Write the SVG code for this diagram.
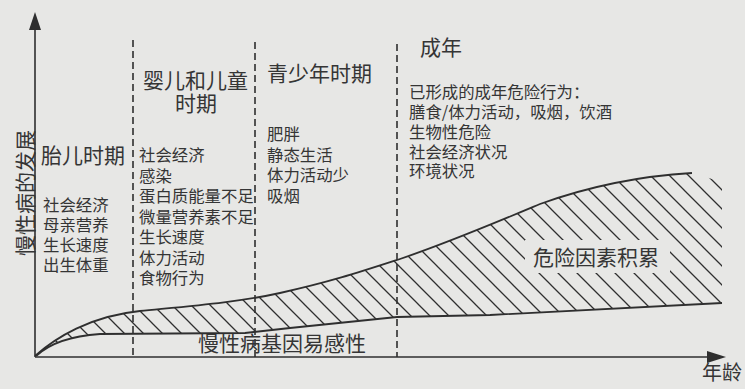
<svg xmlns="http://www.w3.org/2000/svg" width="745" height="389" viewBox="0 0 745 389">
<style>
text{font-family:"Noto Sans CJK SC","Noto Sans",sans-serif;fill:#353535}
.big{font-size:21px}
.sm{font-size:16.4px}
.ax{stroke:#2f2f2f;stroke-width:1.6;fill:none}
.cv{stroke:#2f2f2f;stroke-width:1.8;fill:none}
.dash{stroke:#2f2f2f;stroke-width:1.6;stroke-dasharray:7 4;fill:none}
</style>
<defs>
<pattern id="hatch" patternUnits="userSpaceOnUse" width="19" height="19">
<path d="M0,0 L19,19 M-3,16 L3,22 M16,-3 L22,3" stroke="#2f2f2f" stroke-width="1.3" fill="none"/>
</pattern>
<mask id="hm">
<rect width="745" height="389" fill="black"/>
<path d="M35,356 C55,338 90,316 140,311 C190,306 240,302 280,293 C330,282 360,272 400,259 C450,242 490,225 540,204 C590,186 640,176 692,173 L722,182 L722,303 L490,315 L397,317 L290,328 L245,333 L100,334 C70,336 50,343 36,356 Z" fill="white"/>
<rect x="525" y="240" width="145" height="33" fill="black"/>
</mask>
</defs>
<rect width="745" height="389" fill="#e7e7e5"/>

<g id="hatching">
<rect x="30" y="160" width="700" height="200" fill="url(#hatch)" mask="url(#hm)"/>
</g>

<g id="curves">
<path class="cv" d="M35,356 C55,338 90,316 140,311 C190,306 240,302 280,293 C330,282 360,272 400,259 C450,242 490,225 540,204 C590,186 640,176 692,173"/>
<path class="cv" d="M36,356 C50,343 70,336 100,334 L245,333 L290,328 L397,317 L490,315 L722,303"/>
</g>

<g id="axes">
<line class="ax" x1="35" y1="357" x2="35" y2="28"/>
<polygon points="35,12 29,30 41,30" fill="#2f2f2f"/>
<line class="ax" x1="35" y1="357" x2="710" y2="357"/>
<polygon points="726,357 707,351 707,363" fill="#2f2f2f"/>
<text x="702" y="380" style="font-size:20px">年龄</text>
<text class="big" transform="translate(25,193) rotate(-90)" x="0" y="8" text-anchor="middle">慢性病的发展</text>
</g>

<g id="dividers">
<line class="dash" x1="133" y1="40" x2="133" y2="357"/>
<line class="dash" x1="255" y1="42" x2="255" y2="357"/>
<line class="dash" x1="397" y1="44" x2="397" y2="357"/>
</g>

<g id="fetal">
<text class="big" x="41" y="163">胎儿时期</text>
<text class="sm" x="43" y="211">社会经济</text>
<text class="sm" x="43" y="231">母亲营养</text>
<text class="sm" x="43" y="251">生长速度</text>
<text class="sm" x="43" y="271">出生体重</text>
</g>

<g id="childhood">
<text class="big" x="143" y="88">婴儿和儿童</text>
<text class="big" x="196" y="111" text-anchor="middle">时期</text>
<text class="sm" x="139" y="161">社会经济</text>
<text class="sm" x="139" y="181.5">感染</text>
<text class="sm" x="139" y="202">蛋白质能量不足</text>
<text class="sm" x="139" y="222.5">微量营养素不足</text>
<text class="sm" x="139" y="243">生长速度</text>
<text class="sm" x="139" y="263.5">体力活动</text>
<text class="sm" x="139" y="284">食物行为</text>
</g>

<g id="adolescence">
<text class="big" x="267" y="81">青少年时期</text>
<text class="sm" x="267" y="140">肥胖</text>
<text class="sm" x="267" y="160.5">静态生活</text>
<text class="sm" x="267" y="181">体力活动少</text>
<text class="sm" x="267" y="201.5">吸烟</text>
</g>

<g id="adult">
<text class="big" x="420" y="55">成年</text>
<text class="sm" x="409" y="98">已形成的成年危险行为：</text>
<text class="sm" x="409" y="118">膳食/体力活动，吸烟，饮酒</text>
<text class="sm" x="409" y="138">生物性危险</text>
<text class="sm" x="409" y="158">社会经济状况</text>
<text class="sm" x="409" y="177">环境状况</text>
</g>

<g id="labels">
<text class="big" x="533" y="265">危险因素积累</text>
<text class="big" x="198" y="351">慢性病基因易感性</text>
</g>
</svg>
